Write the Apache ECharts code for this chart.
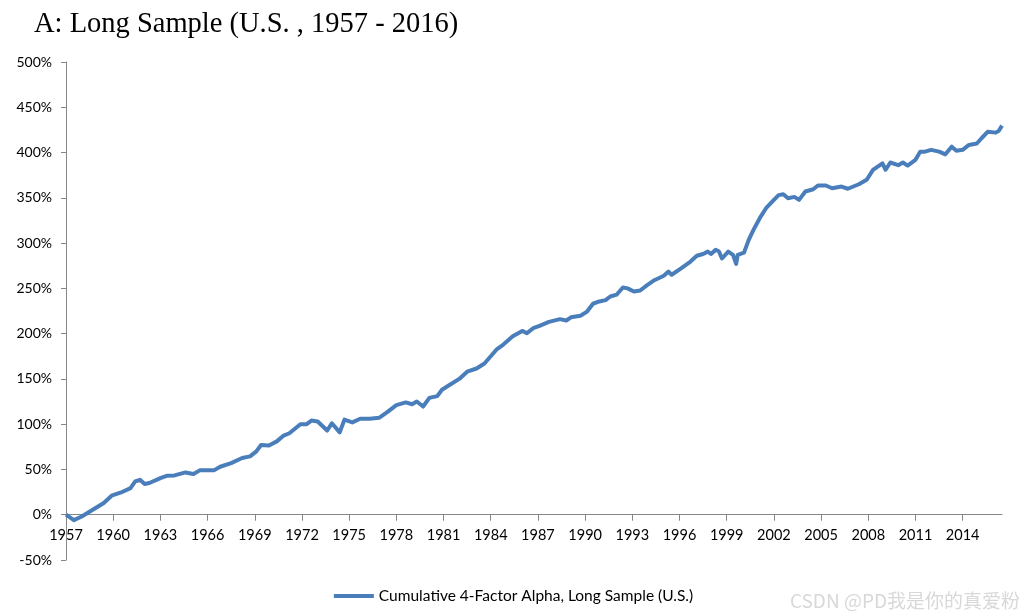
<!DOCTYPE html>
<html>
<head>
<meta charset="utf-8">
<script src="https://cdn.jsdelivr.net/npm/echarts@6/dist/echarts.min.js"></script>
<style>
html,body{margin:0;padding:0;background:#fff;}
#chart{width:1027px;height:615px;}
</style>
</head>
<body>
<div id="chart"></div>
<script>
// Data (decimal years, cumulative alpha in %)
const startYear = 1957;
const years = [1957.0,1957.5,1958.0,1958.7,1959.4,1959.9,1960.5,1961.1,1961.4,1961.7,1962.0,1962.3,1963.0,1963.4,1963.9,1964.6,1965.1,1965.5,1966.4,1966.8,1967.5,1968.2,1968.7,1969.1,1969.4,1969.9,1970.4,1970.8,1971.2,1971.9,1972.3,1972.6,1973.0,1973.6,1973.9,1974.4,1974.7,1975.2,1975.7,1976.3,1976.9,1977.4,1978.0,1978.6,1979.0,1979.3,1979.7,1980.1,1980.6,1980.9,1981.4,1982.0,1982.5,1983.1,1983.6,1984.0,1984.4,1984.8,1985.4,1986.0,1986.3,1986.7,1987.1,1987.7,1988.4,1988.8,1989.1,1989.7,1990.1,1990.5,1990.9,1991.3,1991.6,1992.0,1992.4,1992.7,1993.1,1993.5,1993.9,1994.4,1995.0,1995.3,1995.5,1996.1,1996.7,1997.1,1997.5,1997.8,1998.0,1998.3,1998.5,1998.7,1999.1,1999.4,1999.6,1999.7,2000.1,2000.4,2000.7,2001.1,2001.5,2002.0,2002.3,2002.6,2002.9,2003.3,2003.6,2004.0,2004.5,2004.8,2005.3,2005.7,2006.3,2006.7,2007.4,2007.9,2008.3,2008.6,2008.9,2009.1,2009.4,2009.9,2010.2,2010.5,2011.0,2011.3,2011.6,2012.0,2012.5,2012.9,2013.3,2013.6,2014.0,2014.4,2014.9,2015.2,2015.6,2016.1,2016.3,2016.5];
const alpha = [0,-6,-2,5.5,13,21,24.6,29.4,36.8,38.6,34,35,40.5,43,43.4,46.7,45,49,49,53,57,62.6,64.4,70,77,76.5,81,87,90,100,100,104,103,93,101,91,105,102,106,106,107,113,121,124,122,125,119.5,129,131,138,143.5,150,158,161.5,167,175,183,188,197,203,200.5,206,208.6,213,216,214.5,218,219.7,224,233,235.5,237,241,243,251,250,246.5,247.6,253,259,264,268.6,265,272,279.6,286,288,290.6,288,292.5,291,283,290.6,287,277,287,289.5,303.5,314.6,327.5,338.5,347.7,353,354,349.6,351,347.7,357,359.5,363.6,363.6,360.6,362.4,360,365,370,380.8,384.5,388,381,389,386,389,385.6,392,401,401,403,401,398,406.5,402,403,408.4,410,415.8,423,422,424,429.7];
const xTickYears = [1957,1960,1963,1966,1969,1972,1975,1978,1981,1984,1987,1990,1993,1996,1999,2002,2005,2008,2011,2014];
const seriesName = 'Cumulative 4-Factor Alpha, Long Sample (U.S.)';
const titleText = 'A: Long Sample (U.S. , 1957 - 2016)';
const watermark = 'CSDN @PD我是你的真爱粉';

const data = years.map((y, i) => [y - startYear, alpha[i]]);
const tickVals = xTickYears.map(y => y - startYear);

const gridTop = 62, gridBottom = 55, chartH = 615;
const yMin = -50, yMax = 500;
const plotH = chartH - gridTop - gridBottom;
const zeroOffset = -plotH * (0 - yMin) / (yMax - yMin); // lift x axis to the 0% line

const chart = echarts.init(document.getElementById('chart'));
const axisColor = '#868686';
const labelFont = 'Lato, "Open Sans", sans-serif';
chart.setOption({
  backgroundColor: '#ffffff',
  animation: false,
  title: {
    text: titleText,
    left: 29, top: 5,
    textStyle: {fontFamily: '"Liberation Serif", "Times New Roman", serif', fontSize: 28.5, fontWeight: 'normal', color: '#000'}
  },
  grid: {left: 66, top: gridTop, right: 25, bottom: gridBottom, containLabel: false},
  xAxis: {
    type: 'value',
    min: 0, max: 59.5, interval: 3,
    offset: zeroOffset,
    splitLine: {show: false},
    axisLine: {onZero: false, lineStyle: {color: axisColor, width: 1}},
    axisTick: {show: true, length: 6, customValues: tickVals, lineStyle: {color: axisColor}},
    axisLabel: {
      customValues: tickVals,
      margin: 13,
      color: '#000', fontSize: 14.5, fontFamily: labelFont,
      formatter: v => String(Math.round(v + startYear))
    }
  },
  yAxis: {
    type: 'value',
    min: yMin, max: yMax, interval: 50,
    splitLine: {show: false},
    axisLine: {show: true, lineStyle: {color: axisColor, width: 1}},
    axisTick: {show: true, length: 5, lineStyle: {color: axisColor}},
    axisLabel: {margin: 14, color: '#000', fontSize: 14, fontFamily: labelFont, formatter: v => v + '%'}
  },
  legend: {
    bottom: 6, left: 'center',
    itemWidth: 40, itemHeight: 4, itemGap: 10,
    icon: 'rect',
    textStyle: {color: '#000', fontSize: 15.5, fontFamily: labelFont},
    data: [seriesName]
  },
  series: [{
    name: seriesName,
    type: 'line',
    data: data,
    showSymbol: false,
    symbol: 'none',
    lineStyle: {color: '#4A7EBB', width: 4, join: 'round'},
    itemStyle: {color: '#4A7EBB'}
  }],
  graphic: [{
    type: 'text', right: 7, bottom: 5,
    style: {text: watermark, fill: '#d8d8d8', fontSize: 19, fontFamily: '"Noto Sans CJK SC", "Noto Sans", sans-serif'}
  }]
});
</script>
</body>
</html>
